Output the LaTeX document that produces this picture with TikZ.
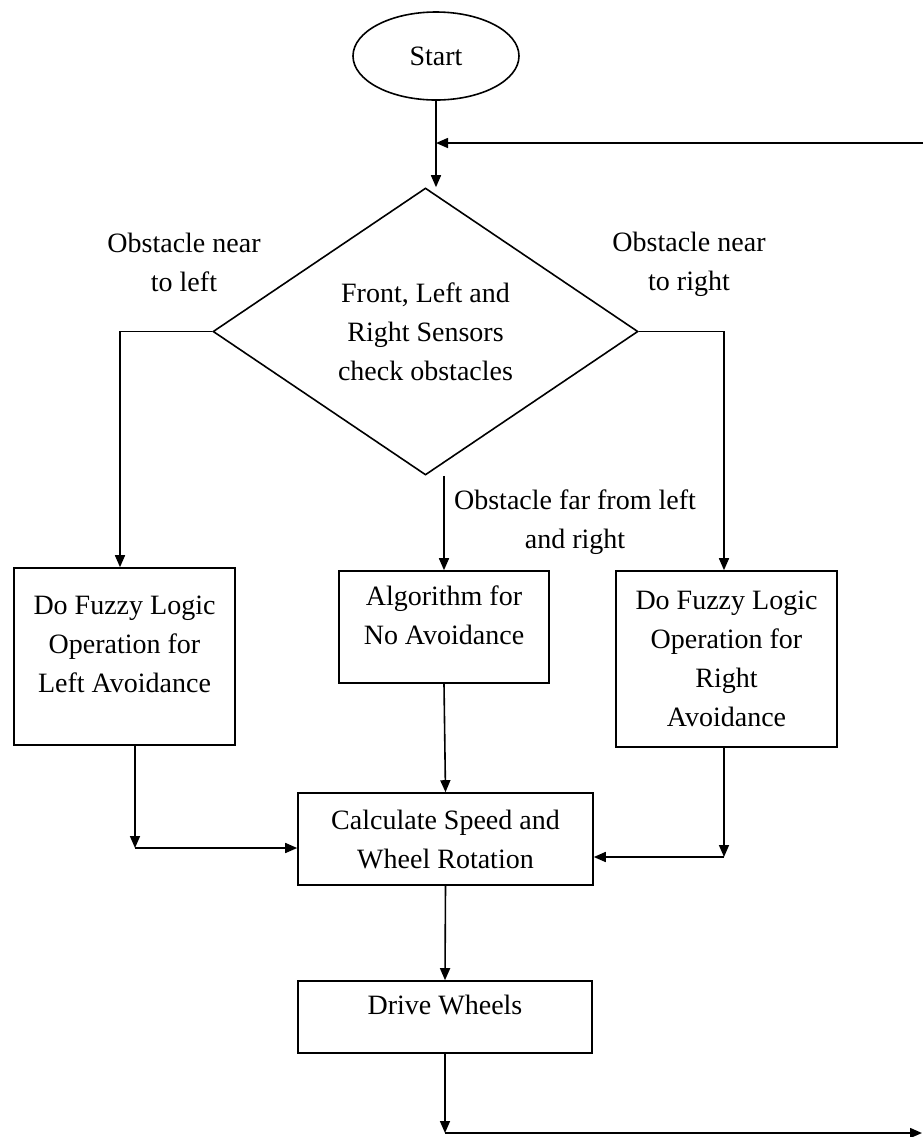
\documentclass[tikz,border=0pt]{standalone}
\usepackage{fontspec}
\setmainfont{Liberation Serif}
\usetikzlibrary{arrows.meta,shapes.geometric}

\begin{document}
\begin{tikzpicture}[x=0.5pt, y=-0.5pt, line width=0.8pt,
  every node/.style={font=\fontsize{14pt}{19.5pt}\selectfont, align=center},
  >={Triangle[length=6pt,width=5pt]},
  box/.style={draw, rectangle, inner sep=2pt},
  lift/.style={text depth=12pt},
  lbl/.style={inner sep=0pt}]
\useasboundingbox (0,0) rectangle (923,1137);
% terminal and decision
\node[draw, ellipse, minimum width=83pt, minimum height=44pt] (start) at (436,56) {Start};
\node[draw, diamond, aspect=1.5, inner sep=0pt, minimum width=212.5pt, minimum height=143.5pt] (check) at (425.5,331.5) {Front, Left and\\Right Sensors\\check obstacles};
% process boxes
\node[box, lift, minimum width=110.5pt, minimum height=88.5pt] (leftop) at (124.5,656.5) {Do Fuzzy Logic\\Operation for\\Left Avoidance};
\node[box, lift, minimum width=105pt, minimum height=56pt] (noavoid) at (444,627) {Algorithm for\\No Avoidance};
\node[box, minimum width=110.5pt, minimum height=88pt] (rightop) at (726.5,659) {Do Fuzzy Logic\\Operation for\\Right\\Avoidance};
\node[box, minimum width=147.5pt, minimum height=46pt] (calc) at (445.5,839) {Calculate Speed and\\Wheel Rotation};
\node[box, lift, minimum width=147pt, minimum height=36pt] (drive) at (445,1017) {Drive Wheels};
% branch labels
\node[lbl] (nearleft) at (184,262) {Obstacle near\\to left};
\node[lbl] (nearright) at (689,264) {Obstacle near\\to right};
\node[lbl] (farlr) at (575,522) {Obstacle far from left\\and right};
% loop ends and bends
\coordinate (loopin) at (923,143);
\coordinate (lbend) at (135,848);
\coordinate (rbend) at (724,857);
\coordinate (down) at (445,1133);
\coordinate (loopout) at (922,1133);
% connectors
\draw[->] (start.south) -- (start.south |- check.north);
\draw[->] (loopin) -- (loopin -| start.south);
\draw[->] (check.west) -| ([xshift=-2.25pt]leftop.north);
\draw[->] (check.east) -| ([xshift=-1.25pt]rightop.north);
\draw[->] (noavoid.north |- check.south) -- (noavoid.north);
\draw[->] (noavoid.south) -- (calc.north);
\draw[->] (lbend |- leftop.south) -- (lbend);
\draw[->] (lbend) -- (lbend -| calc.west);
\draw[->] (rbend |- rightop.south) -- (rbend);
\draw[->] (rbend) -- (rbend -| calc.east);
\draw[->] (calc.south) -- (drive.north);
\draw[->] (drive.south) -- (down);
\draw[->] (down) -- (loopout);
\end{tikzpicture}
\end{document}
